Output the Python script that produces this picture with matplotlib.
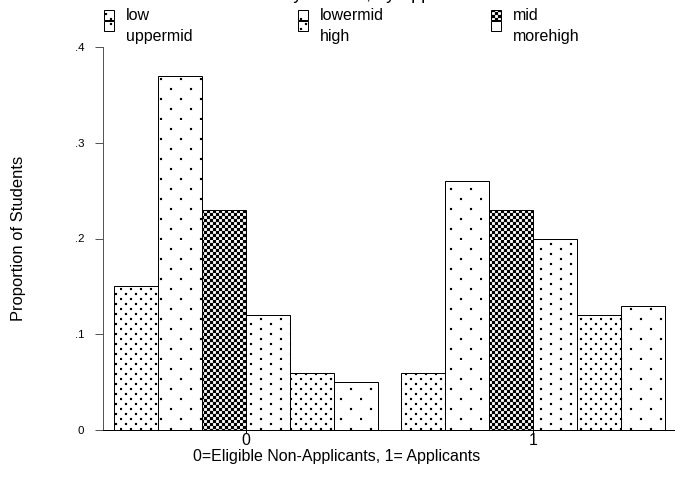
import numpy as np
import matplotlib
matplotlib.use("Agg")
import matplotlib.pyplot as plt
from matplotlib import hatch as mhatch
from matplotlib.path import Path
from matplotlib.patches import Rectangle

# ---- data -------------------------------------------------------------
groups = [0, 1]
group_tick_labels = ["0", "1"]
categories = ["low", "lowermid", "mid", "uppermid", "high", "morehigh"]
non_applicants = [0.15, 0.37, 0.23, 0.12, 0.06, 0.05]
applicants = [0.06, 0.26, 0.23, 0.20, 0.12, 0.13]
y_ticks = [0, 0.1, 0.2, 0.3, 0.4]
y_tick_labels = ["0", ".1", ".2", ".3", ".4"]

title_text = "Family Income, by Applicant Status"
x_label = "0=Eligible Non-Applicants, 1= Applicants"
y_label = "Proportion of Students"

# fill texture for each income band
textures = ["...", ".", "*", "..", "...", "."]

# ---- canvas -------------------------------------------------------------
DPI = 120
W, H = 675, 477


def pt(pixels):
    """pixel size -> points at the figure dpi"""
    return pixels * 72.0 / DPI


plt.rcParams["font.family"] = ["Liberation Sans", "DejaVu Sans"]
plt.rcParams["hatch.linewidth"] = 0.1


# ---- dotted / checkered fills as custom hatch patterns --------------------
def square_lattice(ncols, nrows, side):
    """Small filled squares on a staggered lattice inside the unit hatch tile."""
    verts, codes = [], []
    dx, dy = 1.0 / ncols, 1.0 / nrows
    for j in range(nrows):
        y0 = j * dy
        shift = dx / 2 if j % 2 else 0.0
        for i in range(ncols):
            x0 = i * dx + shift
            verts += [(x0, y0), (x0 + side, y0), (x0 + side, y0 + side),
                      (x0, y0 + side), (x0, y0)]
            codes += [Path.MOVETO, Path.LINETO, Path.LINETO, Path.LINETO,
                      Path.CLOSEPOLY]
    return np.array(verts, float), np.array(codes, Path.code_type)


class DotTexture(mhatch.HatchPatternBase):
    # tile is DPI pixels wide; sizes below are given in pixels
    def __init__(self, hatch, density):
        self.num_vertices = 0
        if not hatch:
            return
        if "*" in hatch:
            spec = (DPI / 6, DPI / 3, 3 / DPI)        # checkerboard
        else:
            n = hatch.count(".")
            if n == 0:
                return
            spec = {1: (DPI / 20, DPI / 10, 2 / DPI),   # sparse dots
                    2: (DPI / 20, DPI / 5, 2 / DPI),    # medium dots
                    3: (DPI / 10, DPI / 5, 2 / DPI)}[min(n, 3)]  # dense dots
        self.verts, self.codes = square_lattice(int(round(spec[0])),
                                                int(round(spec[1])), spec[2])
        self.num_vertices = len(self.verts)

    def set_vertices_and_codes(self, vertices, codes):
        vertices[:] = self.verts
        codes[:] = self.codes


mhatch._hatch_types[:] = [DotTexture]

# ---- figure ---------------------------------------------------------------
fig = plt.figure(figsize=(W / DPI, H / DPI), dpi=DPI)
fig.patch.set_facecolor("white")

ax_left, ax_right, ax_top, ax_bottom = 102.5, 676.5, 47, 430
ax = fig.add_axes([ax_left / W, (H - ax_bottom) / H,
                   (ax_right - ax_left) / W, (ax_bottom - ax_top) / H])

n_cat = len(categories)
bar_w = 0.92 / n_cat
for k, cat in enumerate(categories):
    xs = np.array(groups, float) + (k - (n_cat - 1) / 2) * bar_w
    vals = [non_applicants[k], applicants[k]]
    ax.bar(xs, vals, width=bar_w, facecolor="white", edgecolor="black",
           linewidth=pt(1.0), hatch=textures[k], label=cat, zorder=2)

ax.set_xlim(-0.5, 1.5)
ax.set_ylim(0, 0.4)

for side in ("top", "right"):
    ax.spines[side].set_visible(False)
ax.spines["left"].set_color("#555555")
ax.spines["left"].set_linewidth(pt(1.0))
ax.spines["bottom"].set_color("black")
ax.spines["bottom"].set_linewidth(pt(1.0))

ax.set_yticks(y_ticks)
ax.set_yticklabels(y_tick_labels)
ax.tick_params(axis="y", direction="out", length=pt(8), width=pt(1.0),
               color="#555555", labelsize=pt(11.5), pad=pt(10))
ax.set_xticks(groups)
ax.set_xticklabels(group_tick_labels)
ax.tick_params(axis="x", direction="out", length=pt(3), width=pt(1.0),
               labelsize=pt(16), pad=pt(0))

ax.set_xlabel(x_label, fontsize=pt(16))
ax.xaxis.set_label_coords((337 - ax_left) / (ax_right - ax_left),
                          -(456 - ax_bottom) / (ax_bottom - ax_top))
ax.xaxis.label.set_va("center")
ax.set_ylabel(y_label, fontsize=pt(16.5))
ax.yaxis.set_label_coords(-(ax_left - 18) / (ax_right - ax_left), 0.5)
ax.yaxis.label.set_va("center")

# ---- key across the top ---------------------------------------------------
col_x = [104, 298, 491]
row_box_top = [10, 21]
row_text_y = [15, 36]
box_w, box_h = 10, 10
for k, cat in enumerate(categories):
    r, c = divmod(k, 3)
    x0 = col_x[c]
    y0 = row_box_top[r]
    fig.patches.append(Rectangle((x0 / W, 1 - (y0 + box_h) / H), box_w / W, box_h / H,
                                 transform=fig.transFigure, facecolor="white",
                                 edgecolor="black", linewidth=pt(1.0),
                                 hatch=textures[k]))
    fig.text((x0 + 22) / W, 1 - row_text_y[r] / H, cat, fontsize=pt(16),
             ha="left", va="center")

# title sits mostly above the canvas edge
fig.text(389 / W, 1 + 1 / H, title_text, fontsize=pt(18), ha="center",
         va="baseline")

fig.savefig("out.png", dpi=DPI)
